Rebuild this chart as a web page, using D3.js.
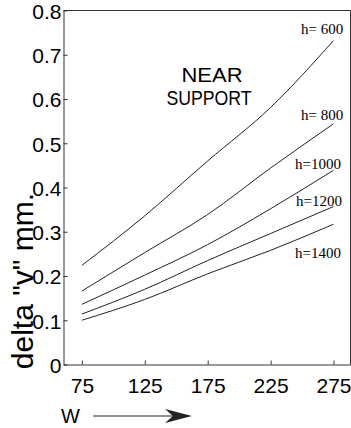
<!DOCTYPE html>
<html>
<head>
<meta charset="utf-8">
<script src="https://cdn.jsdelivr.net/npm/d3@7/dist/d3.min.js"></script>
<style>
  body { margin: 0; background: #fff; }
  svg { display: block; }
</style>
</head>
<body>
<svg width="351" height="428"></svg>
<script>
// W values along the x axis
var wValues = [75, 125, 175, 225, 275];
// one curve per depth h
var curveNames = ["h= 600", "h= 800", "h=1000", "h=1200", "h=1400"];
var h600  = [0.224, 0.336, 0.460, 0.581, 0.732];
var h800  = [0.166, 0.253, 0.339, 0.444, 0.544];
var h1000 = [0.136, 0.202, 0.271, 0.352, 0.439];
var h1200 = [0.114, 0.170, 0.235, 0.296, 0.357];
var h1400 = [0.100, 0.147, 0.205, 0.258, 0.317];
var yTicks = [0, 0.1, 0.2, 0.3, 0.4, 0.5, 0.6, 0.7, 0.8];
var xTicks = [75, 125, 175, 225, 275];

function render() {
    var series = [h600, h800, h1000, h1200, h1400];

    var svg = d3.select("svg");
    var x0 = 63.5, x1 = 350.5, y0 = 10.5, y1 = 364.5;

    var xs = d3.scaleLinear().domain([60.4, 288.5]).range([x0, x1]);
    var ys = d3.scaleLinear().domain([0, 0.8]).range([y1, y0]);

    var sans = "'Liberation Sans', Arial, Helvetica, sans-serif";
    var serif = "'Liberation Serif', 'Times New Roman', serif";

    // frame top + right
    svg.append("path")
        .attr("d", "M" + x0 + "," + y0 + "H" + x1 + "V" + y1)
        .attr("fill", "none")
        .attr("stroke", "#333")
        .attr("stroke-width", 1);

    var yAxis = d3.axisLeft(ys)
        .tickValues(yTicks)
        .tickSize(-4)
        .tickSizeOuter(0)
        .tickPadding(2)
        .tickFormat(function(d) { return d === 0 ? "0" : d3.format(".1f")(d); });

    var xAxis = d3.axisBottom(xs)
        .tickValues(xTicks)
        .tickSize(-4)
        .tickSizeOuter(0)
        .tickPadding(14);

    var gy = svg.append("g")
        .attr("transform", "translate(" + x0 + ",0)")
        .call(yAxis);
    var gx = svg.append("g")
        .attr("transform", "translate(0," + y1 + ")")
        .call(xAxis);

    [gx, gy].forEach(function(g) {
        g.selectAll("path, line").attr("stroke", "#333");
        g.selectAll("text")
            .attr("fill", "#000")
            .style("font-family", sans)
            .style("font-size", "21px");
    });
    gy.selectAll("text").attr("dy", "0.38em");

    // curves
    var line = d3.line()
        .x(function(d, i) { return xs(wValues[i]); })
        .y(function(d) { return ys(d); })
        .curve(d3.curveMonotoneX);

    svg.append("g")
        .selectAll("path")
        .data(series)
        .enter()
        .append("path")
            .attr("d", line)
            .attr("fill", "none")
            .attr("stroke", "#222")
            .attr("stroke-width", 1);

    // curve labels (left x, baseline y)
    var labelPos = [[301, 34], [301, 120], [295, 169], [296, 206], [295, 258]];
    svg.append("g")
        .selectAll("text")
        .data(curveNames)
        .enter()
        .append("text")
            .attr("x", function(d, i) { return labelPos[i][0]; })
            .attr("y", function(d, i) { return labelPos[i][1]; })
            .style("font-family", serif)
            .style("font-size", "15px")
            .text(function(d) { return d; });

    // annotation
    svg.append("text")
        .attr("x", 212).attr("y", 82)
        .attr("text-anchor", "middle")
        .attr("textLength", 61).attr("lengthAdjust", "spacingAndGlyphs")
        .style("font-family", sans).style("font-size", "21px")
        .text("NEAR");
    svg.append("text")
        .attr("x", 209).attr("y", 105)
        .attr("text-anchor", "middle")
        .attr("textLength", 85).attr("lengthAdjust", "spacingAndGlyphs")
        .style("font-family", sans).style("font-size", "21px")
        .text("SUPPORT");

    // y axis title
    svg.append("text")
        .attr("transform", "translate(33,281) rotate(-90)")
        .attr("text-anchor", "middle")
        .style("font-family", sans)
        .style("font-size", "30px")
        .text("delta \"v\" mm.");

    // W with arrow
    svg.append("text")
        .attr("x", 61).attr("y", 423)
        .style("font-family", sans)
        .style("font-size", "20px")
        .text("W");
    svg.append("line")
        .attr("x1", 93).attr("x2", 180)
        .attr("y1", 416).attr("y2", 416)
        .attr("stroke", "#222").attr("stroke-width", 1);
    svg.append("path")
        .attr("d", "M165,409L192,416L165,423L173,416Z")
        .attr("fill", "#222");
}

render();
</script>
</body>
</html>
